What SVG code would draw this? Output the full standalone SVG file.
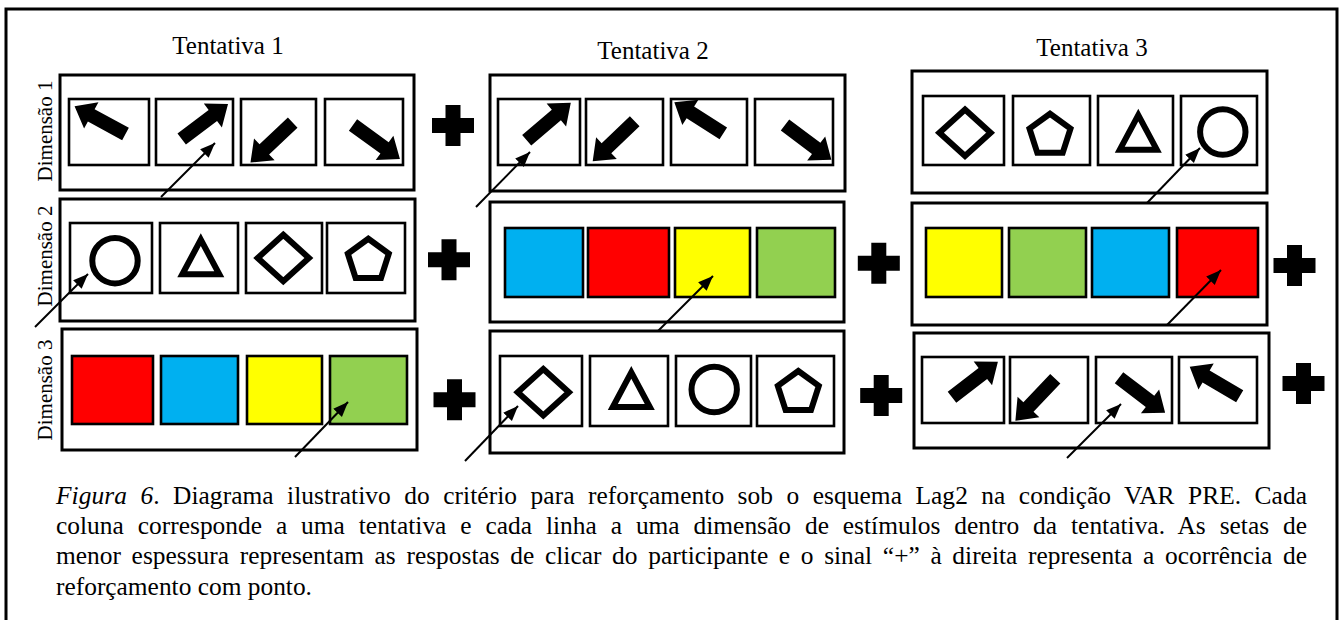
<svg xmlns="http://www.w3.org/2000/svg" width="1343" height="620" viewBox="0 0 1343 620">
<style>
.t{font-family:"Liberation Serif","Times New Roman",serif;fill:#000}
.frame{fill:none;stroke:#000;stroke-width:3}
.panel{fill:#fff;stroke:#000;stroke-width:3}
.cell{fill:#fff;stroke:#000;stroke-width:2.6}
.sh{fill:none;stroke:#000;stroke-width:6}
.conn{stroke:#000;stroke-width:2;fill:none}
.red{fill:#FF0000}.blue{fill:#00B0F0}.yel{fill:#FFFF00}.grn{fill:#92D050}
.cap{font-size:25.4px}
</style>
<defs>
<path id="barrow" d="M0,-7 H39 V-15 L58,0 L39,15 V7 H0 Z" fill="#000"/>
<path id="plus" d="M-7.5,-20.5 H7.5 V-7.5 H21 V7.5 H7.5 V20.5 H-7.5 V7.5 H-21 V-7.5 H-7.5 Z" fill="#000"/>
<polygon id="pent" class="sh" points="0,-21.6 20.5,-6.7 12.7,17.5 -12.7,17.5 -20.5,-6.7"/>
<polygon id="tri" class="sh" points="0,-23.5 18.5,11.1 -18.5,11.1"/>
<polygon id="dia" class="sh" points="0,-23.2 25.6,0 0,23.2 -25.6,0"/>
<circle id="circ" class="sh" r="22.7"/>
<marker id="ah" markerUnits="userSpaceOnUse" markerWidth="16" markerHeight="14" refX="15" refY="6" orient="auto"><path d="M0,0 L15,6 L0,12 Z" fill="#000"/></marker>
</defs>
<rect width="1343" height="620" fill="#fff"/>
<path class="frame" d="M6,624 V9 H1337 V624"/>

<g id="headers">
<text class="t" x="228" y="54" font-size="25" text-anchor="middle">Tentativa 1</text>
<text class="t" x="653" y="59" font-size="25" text-anchor="middle">Tentativa 2</text>
<text class="t" x="1092" y="56" font-size="25" text-anchor="middle">Tentativa 3</text>
<text class="t" font-size="21" text-anchor="middle" transform="translate(52,131) rotate(-90)">Dimensão 1</text>
<text class="t" font-size="21" text-anchor="middle" transform="translate(52,256) rotate(-90)">Dimensão 2</text>
<text class="t" font-size="21" text-anchor="middle" transform="translate(52,390) rotate(-90)">Dimensão 3</text>
</g>

<g id="t1d1">
<rect class="panel" x="60" y="75" width="354" height="115"/>
<rect class="cell" x="69" y="99" width="80" height="66"/>
<rect class="cell" x="156" y="99" width="77" height="66"/>
<rect class="cell" x="241" y="99" width="75" height="66"/>
<rect class="cell" x="325" y="99" width="78" height="66"/>
<use href="#barrow" transform="translate(125.5,134) rotate(208.6)"/>
<use href="#barrow" transform="translate(181.7,139) rotate(-37)"/>
<use href="#barrow" transform="translate(292.7,122.7) rotate(136.7)"/>
<use href="#barrow" transform="translate(353,125) rotate(36)"/>
</g>
<g id="t1d2">
<rect class="panel" x="60" y="199" width="355" height="122"/>
<rect class="cell" x="70" y="223" width="82" height="70"/>
<rect class="cell" x="160" y="223" width="78" height="70"/>
<rect class="cell" x="246" y="223" width="76" height="70"/>
<rect class="cell" x="327" y="223" width="78" height="70"/>
<use href="#circ" x="115" y="260.7"/>
<use href="#tri" x="200.8" y="263.2"/>
<use href="#dia" x="283.3" y="258"/>
<use href="#pent" x="368.3" y="260.4"/>
</g>
<g id="t1d3">
<rect class="panel" x="62" y="329" width="355" height="121"/>
<rect class="cell red" x="72" y="356" width="81" height="68"/>
<rect class="cell blue" x="161" y="356" width="77" height="68"/>
<rect class="cell yel" x="247" y="356" width="75" height="68"/>
<rect class="cell grn" x="330" y="356" width="77" height="68"/>
</g>

<g id="t2d1">
<rect class="panel" x="490" y="75" width="355" height="116"/>
<rect class="cell" x="498" y="99" width="82" height="66"/>
<rect class="cell" x="586" y="99" width="77" height="66"/>
<rect class="cell" x="671" y="99" width="76" height="66"/>
<rect class="cell" x="755" y="99" width="78" height="66"/>
<use href="#barrow" transform="translate(526.7,140.3) rotate(-40.5)"/>
<use href="#barrow" transform="translate(634.7,121.3) rotate(136.4)"/>
<use href="#barrow" transform="translate(723.3,133.3) rotate(212.4)"/>
<use href="#barrow" transform="translate(785,125) rotate(36.9)"/>
</g>
<g id="t2d2">
<rect class="panel" x="490" y="202" width="354" height="120"/>
<rect class="cell blue" x="505" y="228" width="78" height="69"/>
<rect class="cell red" x="588" y="228" width="81" height="69"/>
<rect class="cell yel" x="675" y="228" width="75" height="69"/>
<rect class="cell grn" x="757" y="228" width="78" height="69"/>
</g>
<g id="t2d3">
<rect class="panel" x="490" y="331" width="354" height="122"/>
<rect class="cell" x="500" y="356" width="82" height="70"/>
<rect class="cell" x="590" y="356" width="78" height="70"/>
<rect class="cell" x="676" y="356" width="75" height="70"/>
<rect class="cell" x="757" y="356" width="77" height="70"/>
<use href="#dia" x="543.3" y="392.2"/>
<use href="#tri" x="631.3" y="395.9"/>
<use href="#circ" x="714.2" y="389.5"/>
<use href="#pent" x="798.3" y="392.6"/>
</g>

<g id="t3d1">
<rect class="panel" x="912" y="71" width="355" height="122"/>
<rect class="cell" x="923" y="96" width="81" height="69"/>
<rect class="cell" x="1013" y="96" width="77" height="69"/>
<rect class="cell" x="1098" y="96" width="75" height="69"/>
<rect class="cell" x="1181" y="96" width="76" height="69"/>
<use href="#dia" x="965" y="132.7"/>
<use href="#pent" x="1050" y="135.3"/>
<use href="#tri" x="1138.3" y="138.6"/>
<use href="#circ" x="1222.8" y="132"/>
</g>
<g id="t3d2">
<rect class="panel" x="912" y="203" width="355" height="122"/>
<rect class="cell yel" x="926" y="228" width="76" height="69"/>
<rect class="cell grn" x="1009" y="228" width="77" height="69"/>
<rect class="cell blue" x="1092" y="228" width="77" height="69"/>
<rect class="cell red" x="1177" y="228" width="81" height="69"/>
</g>
<g id="t3d3">
<rect class="panel" x="914" y="333" width="355" height="115"/>
<rect class="cell" x="922" y="357" width="82" height="66"/>
<rect class="cell" x="1010" y="357" width="78" height="66"/>
<rect class="cell" x="1096" y="357" width="76" height="66"/>
<rect class="cell" x="1179" y="357" width="78" height="66"/>
<use href="#barrow" transform="translate(952,397.3) rotate(-37.7)"/>
<use href="#barrow" transform="translate(1055.3,378.7) rotate(133.5)"/>
<use href="#barrow" transform="translate(1119,377.7) rotate(37.3)"/>
<use href="#barrow" transform="translate(1239.7,396.3) rotate(210.5)"/>
</g>

<g id="reinforcers">
<use href="#plus" x="453" y="125.5"/>
<use href="#plus" x="449" y="259.7"/>
<use href="#plus" x="454.5" y="399.7"/>
<use href="#plus" x="878.8" y="263.3"/>
<use href="#plus" x="881.2" y="395.5"/>
<use href="#plus" x="1294.5" y="265.5"/>
<use href="#plus" x="1303.5" y="383.5"/>
</g>

<g id="connectors">
<line class="conn" x1="161" y1="197" x2="215" y2="143" marker-end="url(#ah)"/>
<line class="conn" x1="35" y1="327" x2="88" y2="274" marker-end="url(#ah)"/>
<line class="conn" x1="295" y1="457" x2="348" y2="402" marker-end="url(#ah)"/>
<line class="conn" x1="476" y1="207" x2="530" y2="152" marker-end="url(#ah)"/>
<line class="conn" x1="658" y1="331" x2="713" y2="276" marker-end="url(#ah)"/>
<line class="conn" x1="465" y1="461" x2="518" y2="406" marker-end="url(#ah)"/>
<line class="conn" x1="1147" y1="203" x2="1200" y2="148" marker-end="url(#ah)"/>
<line class="conn" x1="1167" y1="325" x2="1221" y2="270" marker-end="url(#ah)"/>
<line class="conn" x1="1067" y1="458" x2="1121" y2="404" marker-end="url(#ah)"/>
</g>

<g id="caption">
<text class="t cap" x="56" y="504" textLength="1251" lengthAdjust="spacing" word-spacing="7"><tspan font-style="italic">Figura 6</tspan>. Diagrama ilustrativo do critério para reforçamento sob o esquema Lag2 na condição VAR PRE. Cada</text>
<text class="t cap" x="56" y="534" textLength="1251" lengthAdjust="spacing" word-spacing="7.5">coluna corresponde a uma tentativa e cada linha a uma dimensão de estímulos dentro da tentativa. As setas de</text>
<text class="t cap" x="56" y="564" textLength="1251" lengthAdjust="spacing" word-spacing="4.3">menor espessura representam as respostas de clicar do participante e o sinal “+” à direita representa a ocorrência de</text>
<text class="t cap" x="56" y="595">reforçamento com ponto.</text>
</g>
</svg>
